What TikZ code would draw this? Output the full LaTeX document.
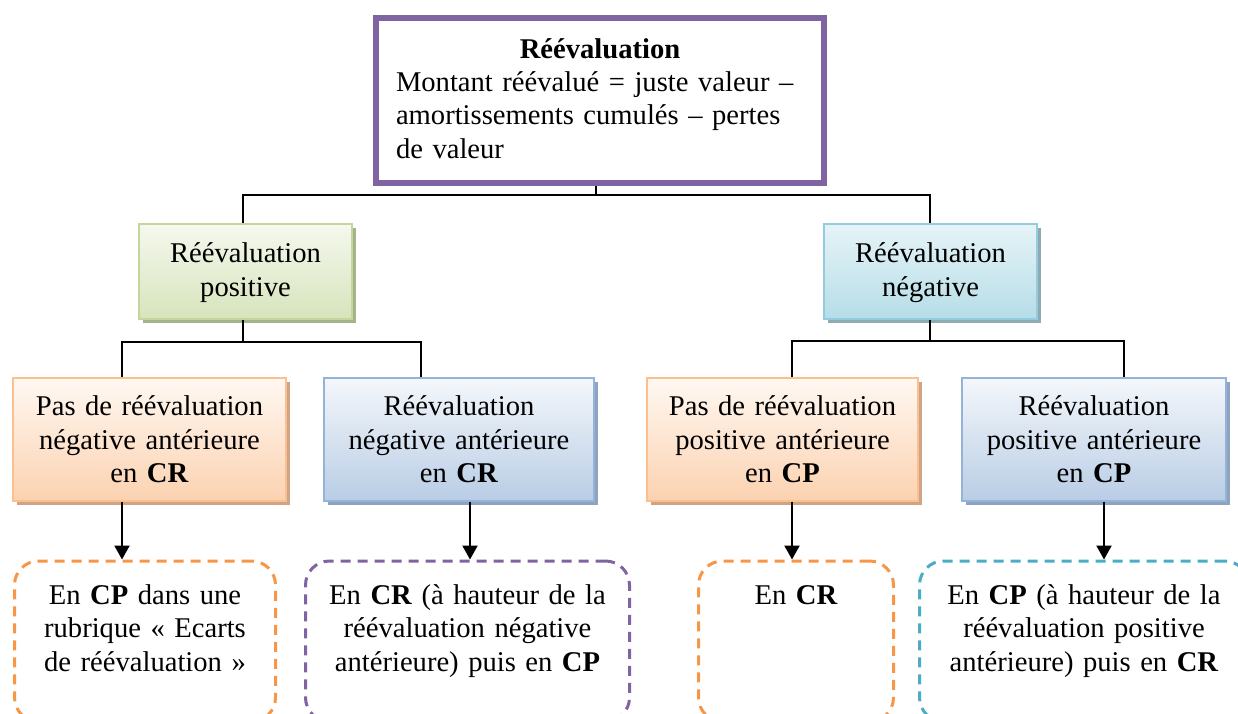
\documentclass[tikz,border=0pt]{standalone}
\usepackage{fontspec}
\setmainfont{Liberation Serif}
\usetikzlibrary{arrows.meta,shadows}
\definecolor{violetbord}{HTML}{8064A2}
\definecolor{vertbord}{HTML}{C3D69B}
\definecolor{verthaut}{HTML}{F5F8EE}
\definecolor{vertbas}{HTML}{D7E4BC}
\definecolor{vertombre}{HTML}{A3B48A}
\definecolor{cyanbord}{HTML}{93CDDD}
\definecolor{cyanhaut}{HTML}{E6F4F7}
\definecolor{cyanbas}{HTML}{B6DDE8}
\definecolor{cyanombre}{HTML}{8FAAB2}
\definecolor{orbord}{HTML}{FAC090}
\definecolor{orhaut}{HTML}{FFF8F2}
\definecolor{orbas}{HTML}{FBD2B0}
\definecolor{orombre}{HTML}{CFA484}
\definecolor{bleubord}{HTML}{95B3D7}
\definecolor{bleuhaut}{HTML}{F4F7FB}
\definecolor{bleubas}{HTML}{B9CDE5}
\definecolor{bleuombre}{HTML}{8EA3BF}
\definecolor{ortiret}{HTML}{F79646}
\definecolor{cyantiret}{HTML}{4BACC6}

\begin{document}
\begin{tikzpicture}[x=1pt,y=-1pt,
  font=\fontsize{28.6}{33.4}\selectfont,
  boite/.style={draw,line width=1.6pt,inner sep=0pt,align=center,anchor=north},
  niveauun/.style={boite,text height=39pt,text depth=56pt,text width=213pt},
  niveaudeux/.style={boite,text height=38pt,text depth=85pt},
  ombre/.style={general shadow={shadow xshift=3.5pt,shadow yshift=-4pt,fill=#1}},
  vert/.style={draw=vertbord,top color=verthaut,bottom color=vertbas,ombre=vertombre},
  cyan/.style={draw=cyanbord,top color=cyanhaut,bottom color=cyanbas,ombre=cyanombre},
  orange/.style={draw=orbord,top color=orhaut,bottom color=orbas,ombre=orombre},
  bleu/.style={draw=bleubord,top color=bleuhaut,bottom color=bleubas,ombre=bleuombre},
  tirets/.style={draw=#1,line width=3pt,dash pattern=on 10pt off 7pt,rounded corners=24pt,
    inner sep=0pt,align=center,anchor=north,text height=43.5pt,text depth=117pt},
  lien/.style={line width=1.6pt},
  fleche/.style={line width=2.2pt,-{Triangle[width=15pt,length=14pt]}}
]
\useasboundingbox (0,0) rectangle (1238,713);

% cadre principal
\node[draw=violetbord,line width=6pt,fill=white,anchor=north,inner xsep=20pt,inner ysep=0pt,
  align=left,text width=408pt,text height=40pt,text depth=125pt] (reeval) at (600,15)
  {\hfill\textbf{Réévaluation}\hfill\null\\
   Montant réévalué = juste valeur~–\\
   amortissements cumulés – pertes\\
   de valeur};

% premier niveau
\node[niveauun,vert] (pos) at (245.5,223) {Réévaluation\\positive};
\node[niveauun,cyan] (neg) at (930.5,223) {Réévaluation\\négative};

% second niveau
\node[niveaudeux,orange,text width=273pt] (pasneg) at (149.5,377)
  {Pas de réévaluation\\négative antérieure\\en \textbf{CR}};
\node[niveaudeux,bleu,text width=270pt] (avecneg) at (459,377)
  {Réévaluation\\négative antérieure\\en \textbf{CR}};
\node[niveaudeux,orange,text width=271pt] (paspos) at (782.5,377)
  {Pas de réévaluation\\positive antérieure\\en \textbf{CP}};
\node[niveaudeux,bleu,text width=264pt] (avecpos) at (1094,377)
  {Réévaluation\\positive antérieure\\en \textbf{CP}};

% traitements
\node[tirets=ortiret,text width=261pt] (ecarts) at (145,559.5)
  {En \textbf{CP} dans une\\rubrique «~Ecarts\\de réévaluation~»};
\node[tirets=violetbord,text width=324pt] (crpuiscp) at (467.5,559.5)
  {En \textbf{CR} (à hauteur de la\\réévaluation négative\\antérieure) puis en \textbf{CP}};
\node[tirets=ortiret,text width=195pt] (encr) at (796,559.5) {En \textbf{CR}};
\node[tirets=cyantiret,text width=329pt] (cppuiscr) at (1084,559.5)
  {En \textbf{CP} (à hauteur de la\\réévaluation positive\\antérieure) puis en \textbf{CR}};

% points de jonction
\coordinate (j0) at (596,195);
\coordinate (j0g) at (243,195);
\coordinate (j0d) at (930,195);
\coordinate (j1g) at (122,342);
\coordinate (j1d) at (421,342);
\coordinate (j2g) at (792,341);
\coordinate (j2d) at (1124,341);
\coordinate (f1) at (122,530);
\coordinate (f2) at (470,530);
\coordinate (f3) at (792,530);
\coordinate (f4) at (1104,530);

% liaisons
\draw[lien] (reeval.south -| j0) -- (j0);
\draw[lien] (pos.north -| j0g) -- (j0g) -- (j0d) -- (neg.north -| j0d);
\draw[lien] (pos.south -| j0g) -- (j0g |- j1g);
\draw[lien] (pasneg.north -| j1g) -- (j1g) -- (j1d) -- (avecneg.north -| j1d);
\draw[lien] (neg.south -| j0d) -- (j0d |- j2g);
\draw[lien] (paspos.north -| j2g) -- (j2g) -- (j2d) -- (avecpos.north -| j2d);

% fleches
\draw[fleche] (pasneg.south -| f1) -- (ecarts.north -| f1);
\draw[fleche] (avecneg.south -| f2) -- (crpuiscp.north -| f2);
\draw[fleche] (paspos.south -| f3) -- (encr.north -| f3);
\draw[fleche] (avecpos.south -| f4) -- (cppuiscr.north -| f4);

\end{tikzpicture}
\end{document}
